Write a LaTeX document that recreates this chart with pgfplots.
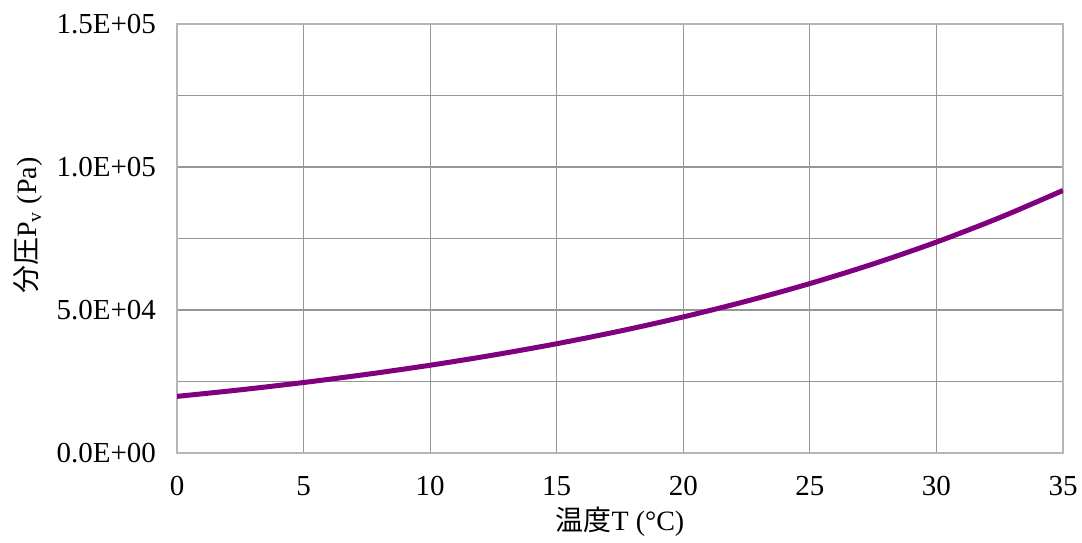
\documentclass[border=0pt]{standalone}
\usepackage{fontspec}
\setmainfont{Liberation Serif}
\newfontfamily\cjk{Noto Sans CJK JP}
\usepackage{pgfplots}
\pgfplotsset{compat=1.18}
\definecolor{curve}{RGB}{128,0,128}
\definecolor{gridc}{RGB}{150,150,150}
\begin{document}
\begin{tikzpicture}
\useasboundingbox (0,0) rectangle (541pt,271pt);
\begin{axis}[
  at={(88.5pt,44.5pt)}, anchor=south west,
  scale only axis, width=443pt, height=214.5pt,
  xmin=0, xmax=35, ymin=0, ymax=150000,
  xtick={0,5,10,15,20,25,30,35},
  xticklabels={0,5,10,15,20,25,30,35},
  ytick={0,50000,100000,150000},
  yticklabels={0.0E+00,5.0E+04,1.0E+05,1.5E+05},
  minor ytick={25000,75000,125000},
  scaled y ticks=false, scaled x ticks=false,
  grid=both,
  major grid style={gridc, line width=0.6pt},
  minor grid style={gridc, line width=0.6pt},
  major tick length=0pt, minor tick length=0pt,
  axis line style={gridc!70, line width=0.6pt},
  tick label style={font=\fontsize{14.5}{16}\selectfont},
  xticklabel style={yshift=-8pt},
  yticklabel style={xshift=-7pt},
  xlabel={{\cjk 温度}T (°C)},
  ylabel={{\cjk 分圧}P\textsubscript{v} (Pa)},
  every axis x label/.style={at={(axis description cs:0.5,-0.161)}, anchor=center, font=\fontsize{14}{16}\selectfont},
  every axis y label/.style={at={(axis description cs:-0.168,0.53)}, rotate=90, anchor=center, font=\fontsize{14}{16}\selectfont},
]
\addplot[curve, line width=2.5pt, smooth] coordinates {
(0,19800) (2.5,22090) (5,24650) (7.5,27510) (10,30690) (12.5,34250)
(15,38210) (17.5,42640) (20,47580) (22.5,53090) (25,59240) (27.5,66100)
(30,73750) (32.5,82300) (35,91800)
};
\end{axis}
\end{tikzpicture}
\end{document}
